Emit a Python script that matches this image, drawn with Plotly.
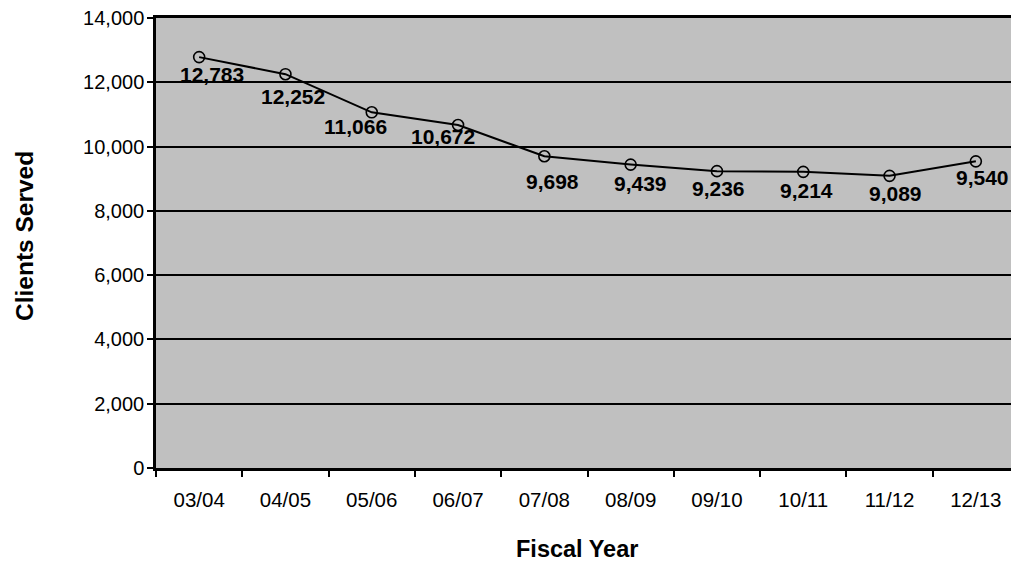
import plotly.graph_objects as go

years = ["03/04", "04/05", "05/06", "06/07", "07/08", "08/09", "09/10", "10/11", "11/12", "12/13"]
clients = [12783, 12252, 11066, 10672, 9698, 9439, 9236, 9214, 9089, 9540]
labels = ["12,783", "12,252", "11,066", "10,672", "9,698", "9,439", "9,236", "9,214", "9,089", "9,540"]

# label offsets (px) as placed in the original chart
label_dx = [13, 8, -16, -15, 8, 10, 2, 3, 6, 7]
label_dy = [17, 22, 14, 12, 25, 19, 17, 19, 18, 16]

FONT = "Liberation Sans, Arial, sans-serif"
W, H = 1019, 567
L, T, B = 156, 18, 99
PW, PH = W - L, H - T - B

fig = go.Figure()
fig.add_trace(go.Scatter(
    x=years, y=clients, mode="lines+markers",
    line=dict(color="black", width=2),
    marker=dict(symbol="circle-open", size=11, color="black", line=dict(width=1.6, color="black")),
    showlegend=False, hoverinfo="x+y",
))

for yr, v, t, dx, dy in zip(years, clients, labels, label_dx, label_dy):
    fig.add_annotation(x=yr, y=v, xref="x", yref="y", text="<b>%s</b>" % t,
                       showarrow=False, xanchor="center", yanchor="middle",
                       xshift=dx, yshift=-dy,
                       font=dict(family=FONT, size=21, color="black"))

fig.add_annotation(xref="paper", yref="paper", x=(24 - L) / PW, y=(468 - 236) / PH,
                   text="<b>Clients Served</b>", textangle=-90, showarrow=False,
                   xanchor="center", yanchor="middle",
                   font=dict(family=FONT, size=24.5, color="black"))
fig.add_annotation(xref="paper", yref="paper", x=(576.5 - L) / PW, y=(468 - 549) / PH,
                   text="<b>Fiscal Year</b>", showarrow=False,
                   xanchor="center", yanchor="middle",
                   font=dict(family=FONT, size=23.5, color="black"))

fig.update_layout(
    width=W, height=H,
    margin=dict(l=L, r=0, t=T, b=B),
    paper_bgcolor="white", plot_bgcolor="#C0C0C0",
    font=dict(family=FONT, size=20, color="black"),
    xaxis=dict(
        type="category", range=[-0.5, 9.5],
        tickson="boundaries", ticks="outside", ticklen=6, tickwidth=2, tickcolor="black",
        showline=True, linecolor="black", linewidth=2.5, mirror=True,
        showgrid=False, zeroline=False, ticklabelstandoff=12,
        tickfont=dict(family=FONT, size=20.5, color="black"),
    ),
    yaxis=dict(
        range=[0, 14000], dtick=2000, tickformat=",",
        ticks="outside", ticklen=6, tickwidth=2, tickcolor="black",
        showline=True, linecolor="black", linewidth=2.5,
        showgrid=True, gridcolor="black", gridwidth=1.5, zeroline=False,
        ticklabelstandoff=-1,
        tickfont=dict(family=FONT, size=20, color="black"),
    ),
)

fig.write_html("out.html", config={"displayModeBar": False},
               post_script="document.body.style.margin='0';document.body.style.overflow='hidden';")
